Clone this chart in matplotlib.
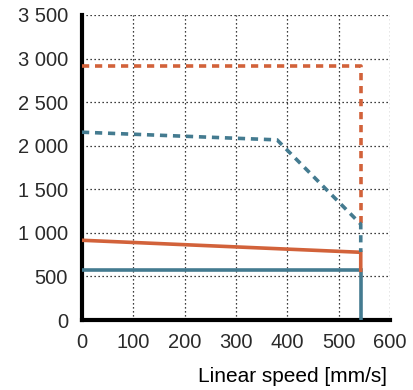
import matplotlib.pyplot as plt
from matplotlib.ticker import FuncFormatter

# Dados
x_max = 543
orange_dash_x = [0, 543, 543]
orange_dash_y = [2910, 2910, 1100]
blue_dash_x = [0, 380, 543, 543]
blue_dash_y = [2155, 2067, 1100, 780]
orange_x = [0, 543, 543]
orange_y = [915, 777, 570]
blue_x = [0, 543, 543]
blue_y = [572, 572, 0]

orange = '#D2623A'
blue = '#447B90'

plt.rcParams['font.family'] = ['Liberation Sans', 'DejaVu Sans']

fig = plt.figure(figsize=(4.14, 3.9), dpi=100)
ax = fig.add_axes([82 / 414, 1 - 320 / 390, 308 / 414, 305 / 390])

ax.plot(blue_x, blue_y, color=blue, lw=2.6, solid_joinstyle='miter', zorder=3)
ax.plot(orange_x, orange_y, color=orange, lw=2.6, solid_joinstyle='miter', zorder=3)
ax.plot(orange_dash_x, orange_dash_y, color=orange, lw=2.6, dashes=(2.0, 1.6), zorder=3)
ax.plot(blue_dash_x, blue_dash_y, color=blue, lw=2.6, dashes=(2.0, 1.6), zorder=3)

ax.set_xlim(0, 600)
ax.set_ylim(0, 3500)
ax.set_xticks(range(0, 601, 100))
ax.set_yticks(range(0, 3501, 500))
ax.yaxis.set_major_formatter(FuncFormatter(lambda v, p: f'{int(v):,}'.replace(',', ' ')))

ax.grid(True, color='black', linestyle=(0, (1, 2.2)), linewidth=0.9)
ax.set_axisbelow(True)
for s in ['top', 'right']:
    ax.spines[s].set_visible(False)
for s in ['left', 'bottom']:
    ax.spines[s].set_linewidth(3)
    ax.spines[s].set_color('black')

ax.tick_params(length=0, labelsize=14.5, labelcolor='#2a2a2a', pad=10)
ax.tick_params(axis='x', pad=9)
ax.set_xlabel('Linear speed [mm/s]', fontsize=15, color='black')
ax.xaxis.set_label_coords(0.99, -0.155)
ax.xaxis.label.set_horizontalalignment('right')

fig.savefig('out.png', dpi=100)
